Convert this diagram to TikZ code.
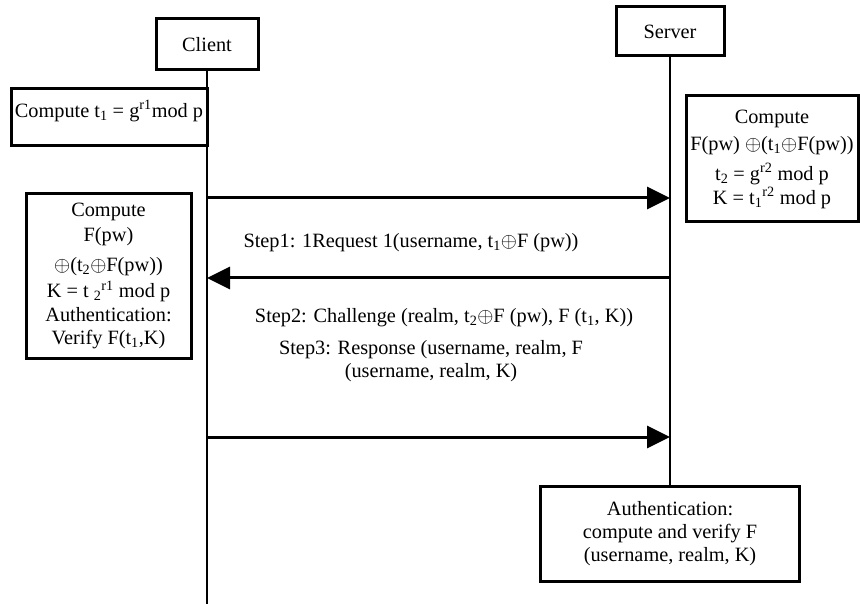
\documentclass[tikz,border=0pt]{standalone}
\usepackage{fontspec}
\setmainfont{Liberation Serif}
\usetikzlibrary{arrows.meta}

\begin{document}
\begin{tikzpicture}[x=1pt,y=-1pt]
\tikzstyle{every node}=[font=\fontsize{20.3}{23}\selectfont]
\tikzstyle{box}=[draw,line width=3pt,inner sep=2pt,align=center]
\tikzstyle{life}=[line width=2.8pt]
\tikzstyle{msg}=[line width=3pt,-{Triangle[length=23pt,width=22pt]}]
\useasboundingbox (0,0) rectangle (860,604);

% actors
\node at (207,44.5) [box,minimum width=102,minimum height=51] (client) {Client};
\node at (670,31.5) [box,minimum width=108,minimum height=49] (server) {Server};

% local computations
\node at (109,117.5) [box,minimum width=196,minimum height=57,text depth=17pt] (ct1) {Compute t\textsubscript{1} = g\textsuperscript{r1}mod p};
\node at (772,159) [box,minimum width=172,minimum height=126] (sk) {Compute\\[4pt]
  F(pw) $\oplus$(t\textsubscript{1}$\oplus$F(pw))\\[7pt]
  t\textsubscript{2} = g\textsuperscript{r2} mod p\\[1pt]
  K = t\textsubscript{1}\textsuperscript{r2} mod p};
\node at (108.5,276) [box,minimum width=165,minimum height=164] (ck) {Compute\\[2pt]
  F(pw)\\[7pt]
  $\oplus$(t\textsubscript{2}$\oplus$F(pw))\\[3pt]
  K = t \textsubscript{2}\textsuperscript{r1} mod p\\[1pt]
  Authentication:\\
  Verify F(t\textsubscript{1},K)};
\node at (670,533.5) [box,minimum width=259,minimum height=95] (sauth) {Authentication:\\
  compute and verify F\\
  (username, realm, K)};

% lifelines
\coordinate (cend) at (207,604);
\draw[life] (client.south) -- (cend);
\draw[life] (server.south) -- (sauth.north);

% messages
\coordinate (c1) at (207,198);
\coordinate (s1) at (670,198);
\coordinate (c2) at (207,278);
\coordinate (s2) at (670,278);
\coordinate (c3) at (207,437);
\coordinate (s3) at (670,437);
\path [draw,msg] (c1) -- (s1);
\path [draw,msg] (s2) -- (c2);
\path [draw,msg] (c3) -- (s3);

\node at (411,243) (step1) {Step1: 1Request 1(username, t\textsubscript{1}$\oplus$F (pw))};
\node at (444,318) (step2) {Step2: Challenge (realm, t\textsubscript{2}$\oplus$F (pw), F (t\textsubscript{1}, K))};
\node at (431,361) [align=center] (step3) {Step3: Response (username, realm, F\\
  (username, realm, K)};

\end{tikzpicture}
\end{document}
